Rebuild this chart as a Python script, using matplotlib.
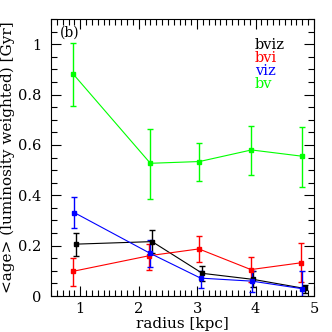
import matplotlib
matplotlib.use('Agg')
import matplotlib.pyplot as plt
from matplotlib.ticker import MultipleLocator

# bviz (black)
bviz_r = [0.93, 2.23, 3.09, 3.96, 4.84]
bviz_age = [0.206, 0.216, 0.090, 0.066, 0.030]
bviz_lo = [0.048, 0.047, 0.030, 0.029, 0.020]
bviz_hi = [0.046, 0.046, 0.031, 0.032, 0.013]

# bvi (red)
bvi_r = [0.875, 2.18, 3.03, 3.92, 4.78]
bvi_age = [0.098, 0.160, 0.187, 0.105, 0.132]
bvi_lo = [0.057, 0.057, 0.053, 0.048, 0.078]
bvi_hi = [0.052, 0.048, 0.051, 0.048, 0.077]

# viz (blue)
viz_r = [0.90, 2.20, 3.06, 3.94, 4.80]
viz_age = [0.331, 0.169, 0.071, 0.059, 0.029]
viz_lo = [0.061, 0.052, 0.038, 0.042, 0.029]
viz_hi = [0.061, 0.052, 0.030, 0.040, 0.071]

# bv (green)
bv_r = [0.885, 2.20, 3.04, 3.93, 4.80]
bv_age = [0.880, 0.527, 0.534, 0.580, 0.555]
bv_lo = [0.126, 0.142, 0.076, 0.098, 0.123]
bv_hi = [0.125, 0.138, 0.075, 0.097, 0.117]

series = [
	("bviz", bviz_r, bviz_age, bviz_lo, bviz_hi, 'black'),
	("bvi", bvi_r, bvi_age, bvi_lo, bvi_hi, '#ff0000'),
	("viz", viz_r, viz_age, viz_lo, viz_hi, '#0000ff'),
	("bv", bv_r, bv_age, bv_lo, bv_hi, '#00ff00'),
]

plt.rcParams['font.family'] = 'DejaVu Serif'
plt.rcParams['font.size'] = 10.5

fig = plt.figure(figsize=(3.32, 3.32), dpi=100)
ax = fig.add_axes([0.1536, 0.1084, 0.7922, 0.8344])

for name, r, age, lo, hi, color in series:
	ax.errorbar(r, age, yerr=[lo, hi], color=color, lw=0.8, elinewidth=1.0,
		capsize=2.5, capthick=1.0, marker='s', ms=3.5, mec=color, mfc=color)

ax.set_xlim(0.5, 5)
ax.set_ylim(0, 1.1)
ax.xaxis.set_major_locator(MultipleLocator(1))
ax.xaxis.set_minor_locator(MultipleLocator(0.1))
ax.yaxis.set_major_locator(MultipleLocator(0.2))
ax.yaxis.set_minor_locator(MultipleLocator(0.05))
ax.yaxis.set_major_formatter(plt.FuncFormatter(lambda v, p: "0" if v == 0 else ("1" if abs(v - 1) < 1e-9 else "{:g}".format(v))))
ax.tick_params(which='both', direction='in', top=True, right=True, width=0.8, labelsize=10.5)
ax.tick_params(which='major', length=7, pad=4)
ax.tick_params(axis='y', which='major', pad=7)
ax.tick_params(which='minor', length=4)
for s in ax.spines.values():
	s.set_linewidth(0.8)

ax.set_xlabel('radius [kpc]', labelpad=1, fontsize=11)
ax.set_ylabel('<age> (luminosity weighted) [Gyr]', labelpad=2, fontsize=11)
ax.text(0.035, 0.975, '(b)', transform=ax.transAxes, ha='left', va='top', fontsize=10)

for i, (name, r, age, lo, hi, color) in enumerate(series):
	ax.text(0.775, 0.905 - i * 0.046, name, color=color, transform=ax.transAxes,
		ha='left', va='center', fontsize=10.5)

fig.savefig('out.png', dpi=100)
